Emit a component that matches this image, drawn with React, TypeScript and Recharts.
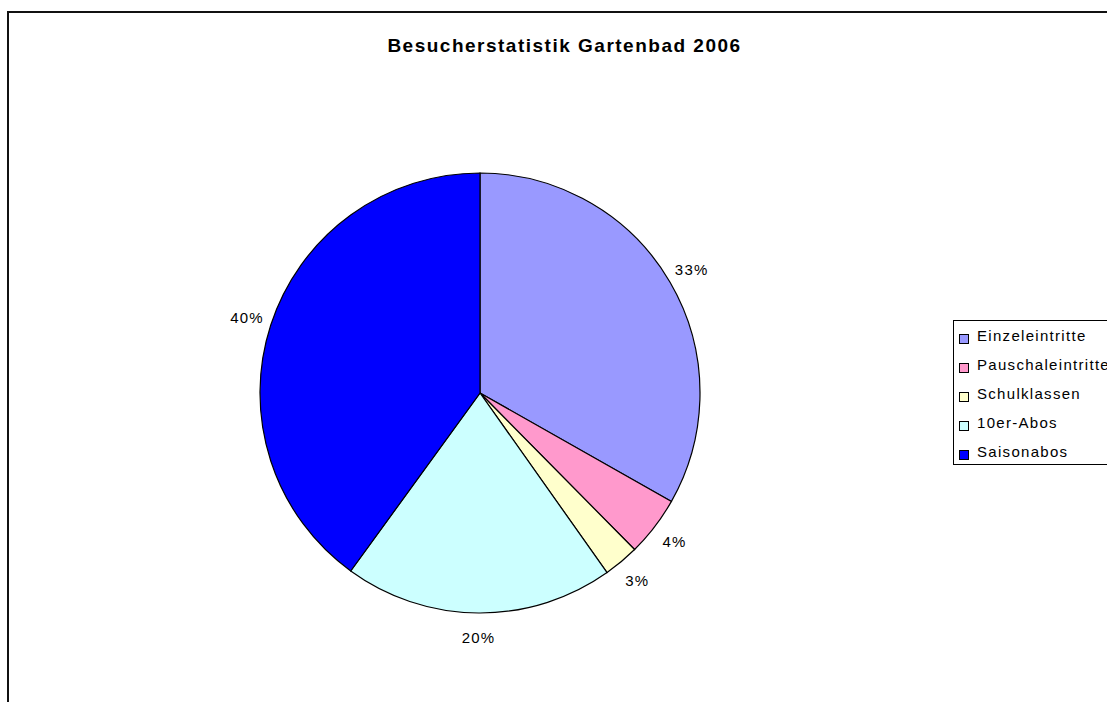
import React from "react";
import { PieChart, Pie, Cell, Legend } from "recharts";

// Besucheranteile (%)
const categories = ["Einzeleintritte", "Pauschaleintritte", "Schulklassen", "10er-Abos", "Saisonabos"];
const shares = [33.2, 4.4, 2.6, 19.8, 40.0];
const colors = ["#9999FF", "#FF99CC", "#FFFFCC", "#CCFFFF", "#0000FF"];

const FONT = "'Liberation Sans', Arial, sans-serif";
const RADIAN = Math.PI / 180;

const data = categories.map((name, i) => ({ name, value: shares[i] }));

function renderLabel(props: any) {
  const { cx, cy, midAngle, outerRadius, percent } = props;
  const r = outerRadius + 25;
  const x = cx + r * Math.cos(-midAngle * RADIAN);
  const y = cy + r * Math.sin(-midAngle * RADIAN);
  return (
    <text
      x={x}
      y={y}
      textAnchor="middle"
      dominantBaseline="central"
      fill="#000"
      fontFamily={FONT}
      fontSize={15}
      letterSpacing={1.2}
    >
      {`${Math.round(percent * 100)}%`}
    </text>
  );
}

// eigene Legende in Datenreihenfolge (Recharts sortiert sonst alphabetisch)
function LegendBox() {
  return (
    <div
      style={{
        border: "1px solid #000",
        borderRight: "none",
        width: 170,
        height: 145,
        boxSizing: "border-box",
        background: "#fff",
        fontFamily: FONT,
        fontSize: 15,
        letterSpacing: 1.3,
        color: "#000",
      }}
    >
      {categories.map((name, i) => (
        <div
          key={name}
          style={{ height: 29, display: "flex", alignItems: "center", paddingLeft: 5, whiteSpace: "nowrap" }}
        >
          <span
            style={{
              display: "inline-block",
              width: 8,
              height: 8,
              border: "1px solid #000",
              background: colors[i],
              marginRight: 8,
              marginTop: 7,
            }}
          />
          <span>{name}</span>
        </div>
      ))}
    </div>
  );
}

export default function App() {
  return (
    <div
      style={{
        position: "absolute",
        left: 0,
        top: 0,
        width: 1107,
        height: 702,
        overflow: "hidden",
        background: "#fff",
      }}
    >
      <div
        style={{
          position: "absolute",
          left: 7,
          top: 11,
          width: 1140,
          height: 740,
          border: "2px solid #111",
        }}
      />
      <div
        style={{
          position: "absolute",
          left: 0,
          top: 36,
          width: 1129,
          textAlign: "center",
          fontFamily: FONT,
          fontWeight: "bold",
          fontSize: 19,
          lineHeight: "19px",
          letterSpacing: 1.5,
          color: "#000",
        }}
      >
        Besucherstatistik Gartenbad 2006
      </div>
      <div style={{ position: "absolute", left: 0, top: 0 }}>
        <PieChart width={1107} height={702} margin={{ top: 0, right: 0, bottom: 0, left: 0 }}>
          <Pie
            data={data}
            dataKey="value"
            nameKey="name"
            cx={480}
            cy={393}
            outerRadius={220}
            startAngle={90}
            endAngle={-270}
            stroke="#000"
            strokeWidth={1.2}
            label={renderLabel}
            labelLine={false}
            isAnimationActive={false}
          >
            {data.map((d, i) => (
              <Cell key={d.name} fill={colors[i]} />
            ))}
          </Pie>
          <Legend
            layout="vertical"
            content={<LegendBox />}
            wrapperStyle={{ position: "absolute", left: 953, top: 320, width: 170, bottom: "auto" }}
          />
        </PieChart>
      </div>
    </div>
  );
}
